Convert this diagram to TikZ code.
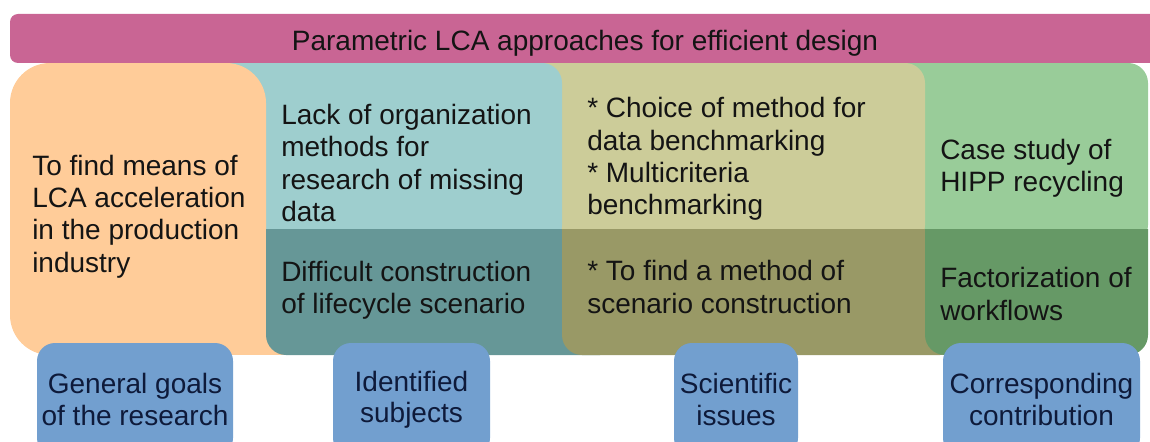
\documentclass[tikz,border=0pt]{standalone}
\usepackage{fontspec}
\setmainfont{Liberation Sans}
\usetikzlibrary{fit}
\definecolor{barC}{HTML}{C96594}
\definecolor{orangeC}{HTML}{FFCC99}
\definecolor{tealL}{HTML}{9ECECE}
\definecolor{tealD}{HTML}{669797}
\definecolor{yelL}{HTML}{CCCC99}
\definecolor{yelD}{HTML}{999966}
\definecolor{grnL}{HTML}{99CC99}
\definecolor{grnD}{HTML}{669966}
\definecolor{boxC}{HTML}{729FCF}
\definecolor{boxT}{HTML}{0E1A3A}
\definecolor{txtC}{HTML}{141414}
\begin{document}
\begin{tikzpicture}[x=0.75pt,y=-0.75pt,
  ptext/.style={anchor=west, align=left, inner sep=0pt, text=txtC, font=\fontsize{21}{24.2}\selectfont},
  btext/.style={align=center, inner sep=0pt, text=boxT, font=\fontsize{21}{23.3}\selectfont},
  bluebox/.style={fill=boxC, rounded corners=13.5pt, inner sep=0pt},
  lightpanel/.style={rounded corners=15pt},
  darkpanel/.style={rounded corners=15pt}]
\useasboundingbox (0,0) rectangle (1150,442);
\clip (0,0) rectangle (1150,442);
% light upper panels (left in front)
\fill[grnL, lightpanel] (850,63) rectangle (1148,245);
\fill[yelL, lightpanel] (500,63) rectangle (925,245);
\fill[tealL, lightpanel] (200,63) rectangle (562,245);
% orange column
\fill[orangeC, rounded corners=30pt] (10,63) rectangle (266,355);
\fill[orangeC] (200,300) rectangle (300,355);
% dark lower band (right in front)
\begin{scope}
  \clip (0,230) rectangle (1150,442);
  \fill[tealD, darkpanel] (266,180) rectangle (620,355);
  \fill[yelD, darkpanel] (562,180) rectangle (960,355);
  \fill[grnD, darkpanel] (925,180) rectangle (1148,355);
\end{scope}
% title bar
\fill[barC, rounded corners=6pt] (10,14) rectangle (1175,63);
\node[font=\fontsize{21}{24.2}\selectfont, text=txtC, inner sep=0pt] (title) at (585,43) {Parametric LCA approaches for efficient design};
% panel texts
\node[ptext] (goal) at (32,216.5) {To find means of\\LCA acceleration\\in the production\\industry};
\node[ptext] (subA) at (281,163) {Lack of organization\\methods for\\research of missing\\data};
\node[ptext] (subB) at (281,290.5) {Difficult construction\\of lifecycle scenario};
\node[ptext] (issA) at (587,159) {* Choice of method for\\data benchmarking\\* Multicriteria\\benchmarking};
\node[ptext] (issB) at (587,287) {* To find a method of\\scenario construction};
\node[ptext] (conA) at (940,168) {Case study of\\HIPP recycling};
\node[ptext] (conB) at (940,294) {Factorization of\\workflows};
% bottom labels
\node[bluebox, fit={(37,343) (233,456)}] (b1) {};
\node[btext] (b1t) at (b1.center) {General goals\\of the research};
\node[bluebox, fit={(333,343) (490,456)}] (b2) {};
\node[btext] (b2t) at (b2.center) {Identified\\subjects};
\node[bluebox, fit={(674,343) (798,456)}] (b3) {};
\node[btext] (b3t) at (b3.center) {Scientific\\issues};
\node[bluebox, fit={(943,343) (1140,456)}] (b4) {};
\node[btext] (b4t) at (b4.center) {Corresponding\\contribution};
\end{tikzpicture}
\end{document}
